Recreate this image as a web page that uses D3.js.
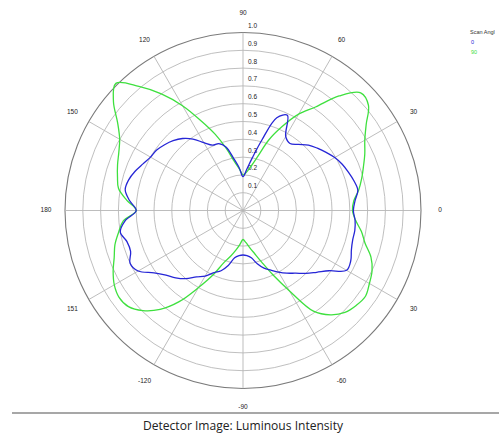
<!DOCTYPE html>
<html><head><meta charset="utf-8">
<script src="https://cdn.jsdelivr.net/npm/d3@7"></script>
<style>html,body{margin:0;padding:0;background:#fff;}svg{display:block;}</style>
</head><body>
<svg id="chart" width="499" height="433"></svg>
<script>
const angles = [0,5,10,15,20,25,30,35,40,45,50,55,60,65,70,75,80,85,90,95,100,105,110,115,120,125,130,135,140,145,150,155,160,165,170,175,
180,185,190,195,200,205,210,215,220,225,230,235,240,245,250,255,260,265,270,275,280,285,290,295,300,305,310,315,320,325,330,335,340,345,350,355];
const scan0 = [0.62,0.632,0.655,0.645,0.63,0.615,0.595,0.57,0.545,0.52,0.485,0.46,0.48,0.59,0.555,0.41,0.30,0.23,0.19,0.24,0.295,0.37,0.40,0.405,0.44,0.49,0.528,0.555,0.575,0.592,0.60,0.62,0.645,0.665,0.672,0.64,
0.60,0.665,0.70,0.675,0.672,0.70,0.68,0.61,0.565,0.535,0.50,0.455,0.425,0.385,0.36,0.32,0.27,0.255,0.25,0.255,0.27,0.31,0.345,0.37,0.40,0.43,0.46,0.50,0.54,0.59,0.672,0.668,0.648,0.638,0.638,0.632];
const scan90 = [0.615,0.625,0.66,0.69,0.72,0.755,0.79,0.845,0.92,0.935,0.84,0.71,0.625,0.52,0.42,0.31,0.25,0.215,0.2,0.235,0.28,0.36,0.455,0.555,0.68,0.80,0.91,1.01,0.95,0.86,0.80,0.77,0.75,0.73,0.71,0.655,
0.60,0.675,0.71,0.745,0.77,0.805,0.835,0.85,0.84,0.795,0.725,0.625,0.50,0.40,0.31,0.265,0.225,0.19,0.163,0.18,0.21,0.25,0.31,0.40,0.52,0.69,0.765,0.81,0.83,0.84,0.82,0.80,0.765,0.71,0.675,0.635];
const ringTicks = [0.1,0.2,0.3,0.4,0.5,0.6,0.7,0.8,0.9,1.0];
const ringLabels = ["0.1","0.2","0.3","0.4","0.5","0.6","0.7","0.8","0.9","1.0"];
const spokeAngles = [0,30,60,90,120,150,180,210,240,270,300,330];
const spokeLabels = ["0","30","60","90","120","150","180","151","-120","-90","-60","30"];
const seriesNames = ["0","90"];
const title = "Detector Image: Luminous Intensity";
const legendTitle = "Scan Angl";

const svg = d3.select("#chart");
const cx = 243, cy = 210.5, R = 178;
const r = d3.scaleLinear().domain([0,1]).range([0,R]);
const toRad = d => (90 - d) * Math.PI / 180; // d3 radial angle (clockwise from top)
const g = svg.append("g").attr("transform", `translate(${cx},${cy})`);

// rings
g.selectAll("circle.ring").data(ringTicks).join("circle")
  .attr("r", d => r(d)).attr("fill","none")
  .attr("stroke", d => d === 1 ? "#7a7a7a" : "#b8b8b8")
  .attr("stroke-width", d => d === 1 ? 1.1 : 0.9);

// spokes
g.selectAll("line.spoke").data(spokeAngles).join("line")
  .attr("x1",0).attr("y1",0)
  .attr("x2", d => r(1)*Math.cos(d*Math.PI/180))
  .attr("y2", d => -r(1)*Math.sin(d*Math.PI/180))
  .attr("stroke","#b5b5b5").attr("stroke-width",0.9);

// ring labels
g.selectAll("text.rl").data(ringTicks).join("text")
  .attr("x", 5).attr("y", d => -r(d) - 4.5)
  .attr("font-family","Liberation Sans, Arial, sans-serif").attr("font-size",6.5)
  .attr("fill","#222").text((d,i) => ringLabels[i]);

// angle labels
g.selectAll("text.al").data(spokeAngles).join("text")
  .attr("x", d => 197*Math.cos(d*Math.PI/180))
  .attr("y", d => -197*Math.sin(d*Math.PI/180))
  .attr("text-anchor","middle").attr("dominant-baseline","middle")
  .attr("font-family","Liberation Sans, Arial, sans-serif").attr("font-size",6.5)
  .attr("fill","#222").text((d,i) => spokeLabels[i]);

const line = d3.lineRadial()
  .angle((d,i) => toRad(angles[i]))
  .radius(d => r(d))
  .curve(d3.curveCatmullRomClosed.alpha(0.5));

const colors = ["#2626d6","#3ee03e"];
[scan90, scan0].forEach((s, k) => {
  g.append("path").attr("d", line(s)).attr("fill","none")
    .attr("stroke", k === 0 ? colors[1] : colors[0]).attr("stroke-width",1.3);
});

// legend
const lg = svg.append("g").attr("font-family","Liberation Sans, Arial, sans-serif").attr("font-size",5.5);
lg.append("text").attr("x",470).attr("y",34).attr("fill","#333").text(legendTitle);
seriesNames.forEach((n,i) => {
  lg.append("text").attr("x",471).attr("y",43.5 + i*10).attr("fill",colors[i]).text(n);
});

// bottom rule and title
svg.append("line").attr("x1",12).attr("x2",499).attr("y1",413).attr("y2",413)
  .attr("stroke","#8a8a8a").attr("stroke-width",1.5);
svg.append("text").attr("x",243).attr("y",429.5).attr("text-anchor","middle")
  .attr("font-family","Open Sans, sans-serif").attr("font-size",13)
  .attr("textLength",200).attr("lengthAdjust","spacingAndGlyphs")
  .attr("fill","#222").text(title);
</script>
</body></html>
